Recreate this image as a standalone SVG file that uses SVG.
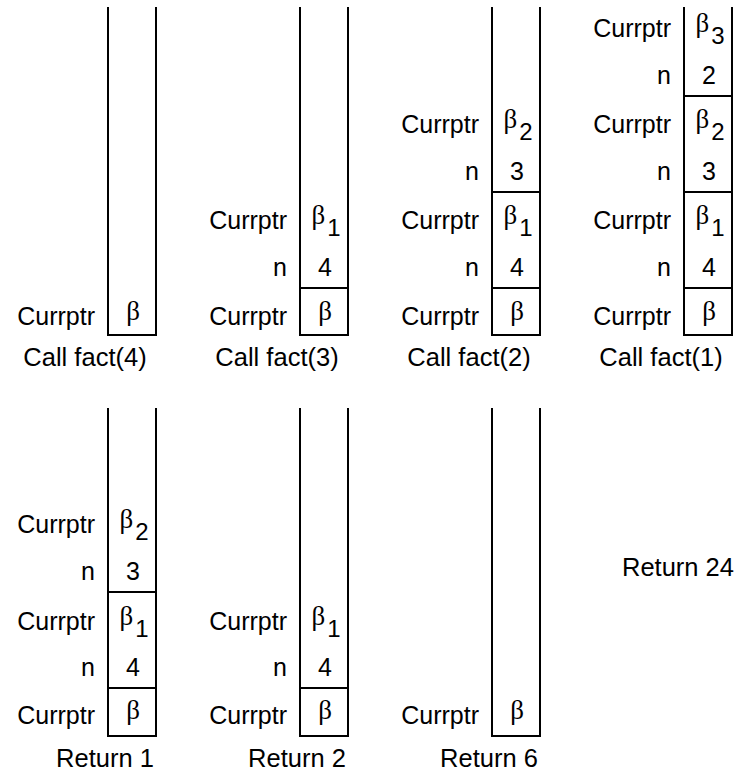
<svg xmlns="http://www.w3.org/2000/svg" width="737" height="775" viewBox="0 0 737 775">
<style>
.col{fill:none;stroke:#000;stroke-width:2}
.lbl{font-family:"Liberation Sans",Arial,sans-serif;font-size:25px;fill:#000;text-anchor:end}
.val{font-family:"Liberation Sans",Arial,sans-serif;font-size:25px;fill:#000;text-anchor:middle}
.b{font-family:"Liberation Serif","Times New Roman",serif;font-size:27px}
.sub{font-family:"Liberation Sans",Arial,sans-serif;font-size:24px}
.cap{font-family:"Liberation Sans",Arial,sans-serif;font-size:25.5px;fill:#000;text-anchor:middle}
</style>
<rect width="737" height="775" fill="#fff"/>

<g id="stack-call4">
<path class="col" d="M108,7 V335 H156 V7"/>
<text class="lbl" x="95" y="325">Currptr</text>
<text class="val" x="133" y="320"><tspan class="b">β</tspan></text>
<text class="cap" x="85" y="366">Call fact(4)</text>
</g>

<g id="stack-call3">
<path class="col" d="M300,7 V335 H348 V7"/>
<path class="col" d="M300,288 H348"/>
<text class="lbl" x="287" y="325">Currptr</text>
<text class="val" x="325" y="320"><tspan class="b">β</tspan></text>
<text class="lbl" x="287" y="276">n</text>
<text class="val" x="325" y="276">4</text>
<text class="lbl" x="287" y="229">Currptr</text>
<text class="val" x="326" y="224"><tspan class="b">β</tspan><tspan class="sub" dx="2" dy="12">1</tspan></text>
<text class="cap" x="277" y="366">Call fact(3)</text>
</g>

<g id="stack-call2">
<path class="col" d="M492,7 V335 H540 V7"/>
<path class="col" d="M492,288 H540 M492,192 H540"/>
<text class="lbl" x="479" y="325">Currptr</text>
<text class="val" x="517" y="320"><tspan class="b">β</tspan></text>
<text class="lbl" x="479" y="276">n</text>
<text class="val" x="517" y="276">4</text>
<text class="lbl" x="479" y="229">Currptr</text>
<text class="val" x="518" y="224"><tspan class="b">β</tspan><tspan class="sub" dx="2" dy="12">1</tspan></text>
<text class="lbl" x="479" y="180">n</text>
<text class="val" x="517" y="180">3</text>
<text class="lbl" x="479" y="133">Currptr</text>
<text class="val" x="518" y="128"><tspan class="b">β</tspan><tspan class="sub" dx="2" dy="12">2</tspan></text>
<text class="cap" x="469" y="366">Call fact(2)</text>
</g>

<g id="stack-call1">
<path class="col" d="M684,7 V335 H732 V7"/>
<path class="col" d="M684,288 H732 M684,192 H732 M684,96 H732"/>
<text class="lbl" x="671" y="325">Currptr</text>
<text class="val" x="709" y="320"><tspan class="b">β</tspan></text>
<text class="lbl" x="671" y="276">n</text>
<text class="val" x="709" y="276">4</text>
<text class="lbl" x="671" y="229">Currptr</text>
<text class="val" x="710" y="224"><tspan class="b">β</tspan><tspan class="sub" dx="2" dy="12">1</tspan></text>
<text class="lbl" x="671" y="180">n</text>
<text class="val" x="709" y="180">3</text>
<text class="lbl" x="671" y="133">Currptr</text>
<text class="val" x="710" y="128"><tspan class="b">β</tspan><tspan class="sub" dx="2" dy="12">2</tspan></text>
<text class="lbl" x="671" y="84">n</text>
<text class="val" x="709" y="84">2</text>
<text class="lbl" x="671" y="37">Currptr</text>
<text class="val" x="710" y="32"><tspan class="b">β</tspan><tspan class="sub" dx="2" dy="12">3</tspan></text>
<text class="cap" x="661" y="366">Call fact(1)</text>
</g>

<g id="stack-return1">
<path class="col" d="M108,408 V736 H156 V408"/>
<path class="col" d="M108,688 H156 M108,592 H156"/>
<text class="lbl" x="95" y="724">Currptr</text>
<text class="val" x="133" y="719"><tspan class="b">β</tspan></text>
<text class="lbl" x="95" y="676">n</text>
<text class="val" x="133" y="676">4</text>
<text class="lbl" x="95" y="630">Currptr</text>
<text class="val" x="134" y="625"><tspan class="b">β</tspan><tspan class="sub" dx="2" dy="12">1</tspan></text>
<text class="lbl" x="95" y="580">n</text>
<text class="val" x="133" y="580">3</text>
<text class="lbl" x="95" y="533">Currptr</text>
<text class="val" x="134" y="528"><tspan class="b">β</tspan><tspan class="sub" dx="2" dy="12">2</tspan></text>
<text class="cap" x="105" y="767">Return 1</text>
</g>

<g id="stack-return2">
<path class="col" d="M300,408 V736 H348 V408"/>
<path class="col" d="M300,688 H348"/>
<text class="lbl" x="287" y="724">Currptr</text>
<text class="val" x="325" y="719"><tspan class="b">β</tspan></text>
<text class="lbl" x="287" y="676">n</text>
<text class="val" x="325" y="676">4</text>
<text class="lbl" x="287" y="630">Currptr</text>
<text class="val" x="326" y="625"><tspan class="b">β</tspan><tspan class="sub" dx="2" dy="12">1</tspan></text>
<text class="cap" x="297" y="767">Return 2</text>
</g>

<g id="stack-return6">
<path class="col" d="M492,408 V736 H540 V408"/>
<text class="lbl" x="479" y="724">Currptr</text>
<text class="val" x="517" y="719"><tspan class="b">β</tspan></text>
<text class="cap" x="489" y="767">Return 6</text>
</g>

<g id="return24">
<text class="cap" x="678" y="576">Return 24</text>
</g>

<g id="connectors"></g>
</svg>
